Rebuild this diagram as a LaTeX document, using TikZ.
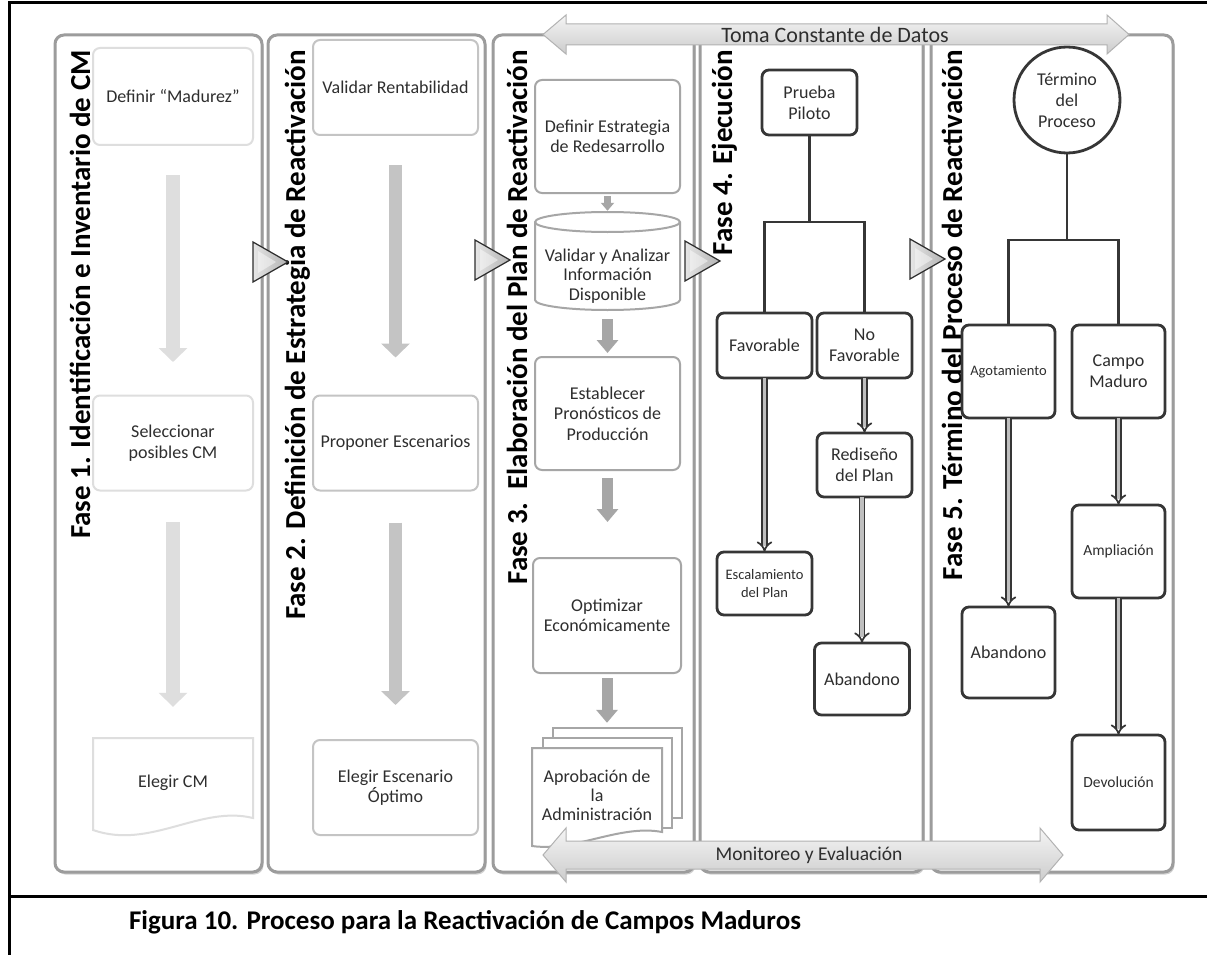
\documentclass[tikz,border=0pt]{standalone}
\usepackage{fontspec}
\setmainfont{Carlito}
\usetikzlibrary{arrows.meta,shadows,calc}
\definecolor{colb}{HTML}{9C9C9C}
\definecolor{pa}{HTML}{DEDEDE}
\definecolor{pb}{HTML}{C4C4C4}
\definecolor{pc}{HTML}{A6A6A6}
\definecolor{dk}{HTML}{363636}
\definecolor{tx}{HTML}{2E2E2E}
\newcommand{\fsz}[2]{\fontsize{#1}{#2}\selectfont}
\tikzset{
  column/.style={draw=colb, line width=3pt, rounded corners=9pt, fill=white, inner sep=0pt, outer sep=0pt,
     drop shadow={shadow xshift=1.5pt, shadow yshift=-2.5pt, opacity=0.35, fill=gray}},
  phasetitle/.style={rotate=90, anchor=base east, inner sep=0pt, font=\fsz{29}{31}\bfseries, text=black},
  pbox/.style={draw=#1, line width=2pt, rounded corners=7pt, fill=white, align=center, inner sep=2pt,
     outer sep=0pt, text=tx, font=\fsz{18}{20.5}},
  dbox/.style={draw=dk, line width=2.8pt, rounded corners=7pt, fill=white, align=center, inner sep=2pt,
     outer sep=0pt, text=tx, font=\fsz{18}{21}},
  tline/.style={draw=dk, line width=2.8pt},
  dblarrow/.style={draw=dk, line width=1.7pt, double=gray!50, double distance=3.5pt, -{Implies}},
  blk/.style={draw=#1, line width=14pt, -{Triangle[length=14pt, width=28pt]}},
  blkc/.style={draw=pc, line width=11pt, -{Triangle[length=13pt, width=21pt]}},
  blks/.style={draw=pc, line width=7pt, -{Triangle[length=8pt, width=13pt]}},
  bigarrow/.style={top color=gray!8, bottom color=gray!40, draw=gray!60, line width=1pt},
  ptr/.pic={
    \draw[left color=gray!20, right color=gray!60, draw=gray!35!black, line width=1.2pt]
      (0,-20) -- (35,0) -- (0,20) -- cycle;
    \fill[white, opacity=0.45] (5,-11) -- (23,0) -- (5,11) -- cycle;
  }
}
\begin{document}
\begin{tikzpicture}[x=1pt,y=-1pt]
\useasboundingbox (0,0) rectangle (1207,955);
\fill[white] (0,0) rectangle (1207,955);

% frame
\draw[line width=3pt] (9,956) -- (9,3) -- (1208,3);
\draw[line width=3pt] (9,896) -- (1208,896);
\node[font=\fsz{27}{29}\bfseries] (cap) at (465,922) {Figura 10. Proceso para la Reactivación de Campos Maduros};

% columns
\node[column, minimum width=207pt, minimum height=837pt] (c1) at (158.5,453.5) {};
\node[column, minimum width=217pt, minimum height=837pt] (c2) at (376.5,453.5) {};
\node[column, minimum width=201pt, minimum height=837pt] (c3) at (593.5,453.5) {};
\node[column, minimum width=223pt, minimum height=837pt] (c4) at (811.5,453.5) {};
\node[column, minimum width=242pt, minimum height=837pt] (c5) at (1052,453.5) {};

% titles
\node[phasetitle] (t1) at (90,50) {Fase 1. Identificación e Inventario de CM};
\node[phasetitle] (t2) at (305,50) {Fase 2. Definición de Estrategia de Reactivación};
\node[phasetitle] (t3) at (527,50) {Fase 3.\ \ Elaboración del Plan de Reactivación};
\node[phasetitle] (t4) at (732,50) {Fase 4. Ejecución};
\node[phasetitle] (t5) at (962,50) {Fase 5. Término del Proceso de Reactivación};

% ---------- Phase 1
\node[pbox=pa, minimum width=160pt, minimum height=97pt] (p1a) at (173,96.5) {Definir “Madurez”};
\node[pbox=pa, minimum width=160pt, minimum height=95pt] (p1b) at (173,443) {Seleccionar\\posibles CM};
\draw[draw=pa, line width=2pt, fill=white] (93,738) -- (253,738) -- (253,818)
   .. controls (200,805) and (150,850) .. (93,830) -- cycle;
\node[align=center, text=tx, font=\fsz{18}{20.5}, minimum width=160pt, minimum height=90pt, inner sep=0pt] (p1c) at (173,783) {Elegir CM};
\draw[blk=pa, shorten <=30pt, shorten >=33.5pt] (p1a.south) -- (p1a.south |- p1b.north);
\draw[blk=pa, shorten <=31.5pt, shorten >=31pt] (p1b.south) -- (p1b.south |- p1c.north);

% ---------- Phase 2
\node[pbox=pb, minimum width=165pt, minimum height=95pt] (p2a) at (395.5,87.5) {Validar Rentabilidad};
\node[pbox=pb, minimum width=165pt, minimum height=95pt] (p2b) at (395.5,443) {Proponer Escenarios};
\node[pbox=pb, minimum width=165pt, minimum height=95pt] (p2c) at (395.5,787.5) {Elegir Escenario\\Óptimo};
\draw[blk=pb, line width=13pt, shorten <=30pt, shorten >=38pt] (p2a.south) -- (p2a.south |- p2b.north);
\draw[blk=pb, line width=13pt, shorten <=32pt, shorten >=35pt] (p2b.south) -- (p2b.south |- p2c.north);

% ---------- Phase 3
\node[pbox=pc, minimum width=145pt, minimum height=113pt] (p3a) at (607.5,136.5) {Definir Estrategia\\de Redesarrollo};
\draw[draw=pc, line width=2pt, fill=white] (535,222) -- (535,300)
   arc[start angle=180, end angle=0, x radius=72.5, y radius=10] -- (680,222)
   arc[start angle=0, end angle=-180, x radius=72.5, y radius=10] -- cycle;
\draw[draw=pc, line width=2pt] (535,222) arc[start angle=180, end angle=0, x radius=72.5, y radius=10];
\node[align=center, text=tx, font=\fsz{18}{19.5}, minimum width=145pt, minimum height=84pt, inner sep=0pt] (cyl) at (607.5,276) {Validar y Analizar\\Información\\Disponible};
\node[pbox=pc, minimum width=145pt, minimum height=113pt] (p3c) at (607.5,413.5) {Establecer\\Pronósticos de\\Producción};
\node[pbox=pc, minimum width=148pt, minimum height=115pt] (p3d) at (607,615.5) {Optimizar\\Económicamente};
% stacked documents
\draw[draw=pc, line width=2pt, fill=white] (553,728) rectangle (682,818);
\draw[draw=pc, line width=2pt, fill=white] (543,738) rectangle (672,828);
\draw[draw=pc, line width=2pt, fill=white] (532,748) -- (662,748) -- (662,832)
   .. controls (620,824) and (575,852) .. (532,846) -- cycle;
\node[align=center, text=tx, font=\fsz{18}{19}, minimum width=130pt, minimum height=94pt, inner sep=0pt] (p3e) at (597,795) {Aprobación de\\la\\Administración};
\draw[blks, shorten <=3pt, shorten >=23pt] (p3a.south) -- (p3a.south |- cyl.north);
\draw[blkc, shorten <=1pt, shorten >=4pt] (cyl.south) -- (cyl.south |- p3c.north);
\draw[blkc, shorten <=8pt, shorten >=36pt] (p3c.south) -- (p3c.south |- p3d.north);
\draw[blkc, shorten <=5pt, shorten >=25pt] (p3d.south) -- (p3d.south |- p3e.north);

% ---------- Phase 4
\node[dbox, minimum width=95pt, minimum height=65pt] (pp) at (809.5,102.5) {Prueba\\Piloto};
\node[dbox, minimum width=95pt, minimum height=65pt] (fav) at (764.5,345.5) {Favorable};
\node[dbox, minimum width=95pt, minimum height=65pt] (nofav) at (864.5,345.5) {No\\Favorable};
\node[dbox, minimum width=95pt, minimum height=63pt, font=\fsz{14.5}{18}] (esc) at (764.5,583.5) {Escalamiento\\del Plan};
\node[dbox, minimum width=95pt, minimum height=64pt] (red) at (864.5,465) {Rediseño\\del Plan};
\node[dbox, minimum width=95pt, minimum height=72pt] (ab4) at (862,679) {Abandono};
\coordinate (j4) at (809.5,222);
\draw[tline] (pp.south) -- (j4);
\draw[tline] (fav.north) |- (j4) -| (nofav.north);
\draw[dblarrow] (fav.south) -- (esc.north);
\draw[dblarrow] (nofav.south) -- (red.north);
\draw[dblarrow] (red.south -| ab4.north) -- (ab4.north);

% ---------- Phase 5
\node[draw=dk, line width=2.8pt, circle, minimum size=106pt, inner sep=0pt, fill=white, align=center,
   text=tx, font=\fsz{18}{21}] (term) at (1067,100) {Término\\del\\Proceso};
\node[dbox, minimum width=93pt, minimum height=93pt, font=\fsz{14.5}{18}] (agot) at (1008.5,371.5) {Agotamiento};
\node[dbox, minimum width=93pt, minimum height=93pt] (cm) at (1118.5,371.5) {Campo\\Maduro};
\node[dbox, minimum width=93pt, minimum height=91pt] (ab5) at (1008.5,652.5) {Abandono};
\node[dbox, minimum width=93pt, minimum height=93pt, font=\fsz{15.5}{18}] (ampl) at (1118.5,551.5) {Ampliación};
\node[dbox, minimum width=93pt, minimum height=95pt, font=\fsz{15.5}{18}] (devo) at (1118.5,782.5) {Devolución};
\coordinate (j5) at (1067,240);
\draw[tline] (term.south) -- (j5);
\draw[tline] (agot.north) |- (j5) -| (cm.north);
\draw[dblarrow] (agot.south) -- (ab5.north);
\draw[dblarrow] (cm.south) -- (ampl.north);
\draw[dblarrow] (ampl.south) -- (devo.north);

% ---------- big arrows
\draw[bigarrow] (543,34.5) -- (566,15) -- (566,24) -- (1107,24) -- (1107,15) -- (1129,34.5)
   -- (1107,54) -- (1107,45) -- (566,45) -- (566,54) -- cycle;
\node[font=\fsz{22}{24}, text=tx, inner sep=0pt] (toma) at (835,35) {Toma Constante de Datos};
\draw[bigarrow] (543,855) -- (566,828) -- (566,841) -- (1040,841) -- (1040,828) -- (1063,855)
   -- (1040,882) -- (1040,869) -- (566,869) -- (566,882) -- cycle;
\node[font=\fsz{19.5}{22}, text=tx, inner sep=0pt] (monit) at (809,855) {Monitoreo y Evaluación};

% ---------- pointers
\pic at (253,262) {ptr};
\pic at (475,260) {ptr};
\pic at (685,261) {ptr};
\pic at (910,259) {ptr};
\end{tikzpicture}
\end{document}
